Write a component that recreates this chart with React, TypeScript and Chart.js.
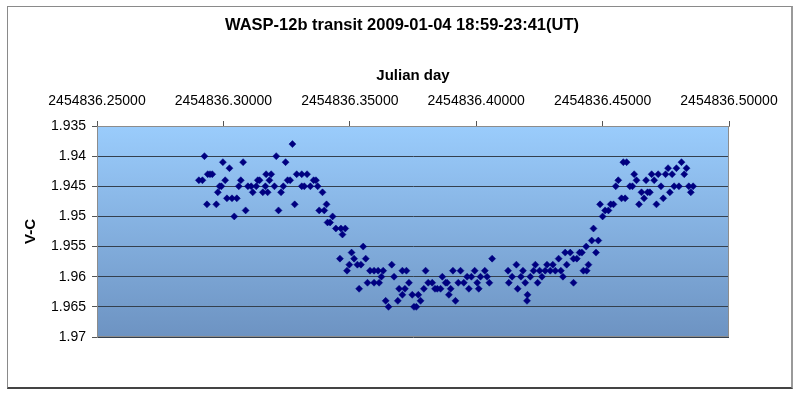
import React, { useEffect, useRef } from "react";
import { Chart, registerables } from "chart.js";

Chart.register(...registerables);

const TITLE = "WASP-12b transit 2009-01-04 18:59-23:41(UT)";
const X_TITLE = "Julian day";
const Y_TITLE = "V-C";
const JD_BASE = 2454836;
const X_MIN = 0.25;
const X_MAX = 0.5;
const X_STEP = 0.05;
const Y_MIN = 1.935;
const Y_MAX = 1.97;
const Y_STEP = 0.005;

// Julian day minus JD_BASE
const JD_FRACTION = [
  0.2903, 0.2917, 0.2925, 0.2935, 0.2938, 0.2947, 0.2956, 0.2972, 0.2978, 0.2985,
  0.2992, 0.2998, 0.3007, 0.3014, 0.3024, 0.3034, 0.3043, 0.3053, 0.3061, 0.3069,
  0.3078, 0.3088, 0.3097, 0.311, 0.3116, 0.313, 0.3136, 0.3143, 0.3156, 0.3166,
  0.3169, 0.3175, 0.3182, 0.3189, 0.3202, 0.3209, 0.3218, 0.3228, 0.3237, 0.3246,
  0.3254, 0.3264, 0.3273, 0.3282, 0.329, 0.331, 0.331, 0.332, 0.3331, 0.3344,
  0.3357, 0.3366, 0.3373, 0.3379, 0.3392, 0.3399, 0.3408, 0.3412, 0.3422, 0.3432,
  0.3445, 0.3461, 0.3465, 0.3471, 0.3482, 0.3489, 0.3498, 0.3507, 0.3517, 0.353,
  0.3537, 0.3544, 0.3553, 0.3563, 0.357, 0.358, 0.3596, 0.3596, 0.3612, 0.3616,
  0.3625, 0.3632, 0.3642, 0.3653, 0.3666, 0.3675, 0.369, 0.3695, 0.3708, 0.3708,
  0.3718, 0.3724, 0.3734, 0.3747, 0.3754, 0.3763, 0.3771, 0.378, 0.3793, 0.38,
  0.381, 0.3826, 0.3837, 0.3846, 0.3859, 0.3866, 0.3879, 0.3885, 0.3892, 0.3899,
  0.3908, 0.3918, 0.3929, 0.3938, 0.3951, 0.3964, 0.3971, 0.3981, 0.3994, 0.4004,
  0.401, 0.4017, 0.4034, 0.4043, 0.4052, 0.4063, 0.4126, 0.4129, 0.4142, 0.4159,
  0.4164, 0.4177, 0.4185, 0.4194, 0.4201, 0.4203, 0.4214, 0.4227, 0.4234, 0.4243,
  0.4251, 0.426, 0.4273, 0.428, 0.4293, 0.4303, 0.4313, 0.4326, 0.4335, 0.4343,
  0.4352, 0.4358, 0.4372, 0.4385, 0.4385, 0.4398, 0.4409, 0.4418, 0.4424, 0.4435,
  0.4437, 0.4444, 0.4457, 0.4464, 0.4474, 0.4483, 0.449, 0.45, 0.451, 0.4523,
  0.4532, 0.4543, 0.4552, 0.4562, 0.4575, 0.4582, 0.4589, 0.4595, 0.4608, 0.4618,
  0.4625, 0.4634, 0.4644, 0.4654, 0.4664, 0.4672, 0.4678, 0.4687, 0.4694, 0.4704,
  0.4713, 0.472, 0.4731, 0.474, 0.4749, 0.4759, 0.4766, 0.4775, 0.4783, 0.4792,
  0.4802, 0.4812, 0.4823, 0.4832, 0.4841, 0.4849, 0.4858,
];

const V_MINUS_C = [
  1.944, 1.944, 1.94, 1.948, 1.943, 1.943, 1.943, 1.948, 1.946, 1.945,
  1.945, 1.941, 1.944, 1.947, 1.942, 1.947, 1.95, 1.947, 1.945, 1.944,
  1.941, 1.949, 1.945, 1.945, 1.946, 1.945, 1.944, 1.944, 1.946, 1.945,
  1.943, 1.946, 1.944, 1.943, 1.945, 1.94, 1.949, 1.946, 1.945, 1.941,
  1.944, 1.944, 1.938, 1.948, 1.943, 1.943, 1.945, 1.945, 1.943, 1.945,
  1.944, 1.944, 1.945, 1.949, 1.946, 1.949, 1.948, 1.951, 1.951, 1.95,
  1.952, 1.957, 1.952, 1.953, 1.952, 1.959, 1.958, 1.956, 1.957, 1.958,
  1.962, 1.958, 1.955, 1.957, 1.961, 1.959, 1.959, 1.961, 1.959, 1.961,
  1.96, 1.959, 1.964, 1.965, 1.958, 1.96, 1.964, 1.962, 1.959, 1.963,
  1.962, 1.959, 1.961, 1.963, 1.965, 1.965, 1.963, 1.964, 1.962, 1.959,
  1.961, 1.961, 1.962, 1.962, 1.962, 1.96, 1.961, 1.961, 1.963, 1.962,
  1.959, 1.964, 1.961, 1.959, 1.961, 1.96, 1.962, 1.96, 1.959, 1.961,
  1.962, 1.96, 1.959, 1.96, 1.961, 1.957, 1.959, 1.961, 1.96, 1.958,
  1.962, 1.96, 1.959, 1.961, 1.964, 1.963, 1.96, 1.959, 1.958, 1.961,
  1.959, 1.96, 1.959, 1.958, 1.959, 1.958, 1.959, 1.957, 1.959, 1.96,
  1.956, 1.958, 1.956, 1.961, 1.957, 1.957, 1.956, 1.956, 1.959, 1.955,
  1.959, 1.958, 1.954, 1.952, 1.956, 1.954, 1.948, 1.95, 1.949, 1.949,
  1.948, 1.948, 1.945, 1.944, 1.947, 1.941, 1.947, 1.941, 1.945, 1.945,
  1.943, 1.944, 1.948, 1.946, 1.947, 1.944, 1.946, 1.946, 1.943, 1.944,
  1.948, 1.943, 1.945, 1.947, 1.943, 1.942, 1.946, 1.943, 1.945, 1.942,
  1.945, 1.941, 1.943, 1.942, 1.945, 1.946, 1.945,
];

const FONT = "'Liberation Sans', Arial, sans-serif";

const plotArea = {
  id: "plotArea",
  beforeDraw(chart: any) {
    const { ctx, chartArea } = chart;
    const { left, top, right, bottom } = chartArea;
    const g = ctx.createLinearGradient(0, top, 0, bottom);
    g.addColorStop(0, "#9ACCFC");
    g.addColorStop(1, "#6D93C2");
    ctx.save();
    ctx.fillStyle = g;
    ctx.fillRect(left, top, right - left, bottom - top);
    ctx.restore();
  },
  beforeDatasetsDraw(chart: any) {
    const { ctx, chartArea } = chart;
    const { left, top, right, bottom } = chartArea;
    ctx.save();
    ctx.strokeStyle = "#8C8C8C";
    ctx.lineWidth = 1;
    ctx.strokeRect(Math.round(left) + 0.5, Math.round(top) + 0.5, Math.round(right - left) - 1, Math.round(bottom - top) - 1);
    ctx.restore();
  },
  afterDraw(chart: any) {
    const { ctx } = chart;
    ctx.save();
    ctx.fillStyle = "#000";
    ctx.font = `bold 16.5px ${FONT}`;
    ctx.textAlign = "center";
    ctx.textBaseline = "middle";
    ctx.fillText(TITLE, 402, 25);
    ctx.restore();
  },
};

export default function App() {
  const ref = useRef<HTMLCanvasElement>(null);

  useEffect(() => {
    if (!ref.current) return;
    const points = JD_FRACTION.map((x, i) => ({ x, y: V_MINUS_C[i] }));
    const chart = new Chart(ref.current, {
      type: "scatter",
      data: {
        datasets: [
          {
            data: points,
            pointStyle: "rectRot",
            pointRadius: 3.5,
            backgroundColor: "#000080",
            borderColor: "#000080",
            borderWidth: 0.5,
          },
        ],
      },
      plugins: [plotArea],
      options: {
        responsive: false,
        animation: false,
        devicePixelRatio: 1,
        layout: { padding: { left: 20, right: 71, top: 60, bottom: 58 } },
        plugins: {
          legend: { display: false },
          tooltip: { enabled: false },
          title: { display: false },
        },
        scales: {
          x: {
            type: "linear",
            position: "top",
            min: X_MIN,
            max: X_MAX,
            afterFit: (s: any) => {
              s.height = 66;
            },
            ticks: {
              stepSize: X_STEP,
              color: "#000",
              font: { family: FONT, size: 14 },
              padding: 11.5,
              maxRotation: 0,
              autoSkip: false,
              callback: (v: any) => (JD_BASE + Number(v)).toFixed(5),
            },
            grid: {
              drawOnChartArea: false,
              drawTicks: true,
              tickLength: 5,
              tickColor: "#555",
            },
            border: { color: "#8C8C8C" },
            title: {
              display: true,
              text: X_TITLE,
              color: "#000",
              font: { family: FONT, size: 15, weight: "bold" },
              padding: { top: 7, bottom: 0 },
            },
          },
          y: {
            type: "linear",
            reverse: true,
            min: Y_MIN,
            max: Y_MAX,
            afterFit: (s: any) => {
              s.width = 77;
            },
            ticks: {
              stepSize: Y_STEP,
              color: "#000",
              font: { family: FONT, size: 14 },
              padding: 6,
              callback: (v: any) => String(Number(Number(v).toFixed(3))),
            },
            grid: {
              color: "#34404E",
              lineWidth: 1,
              drawTicks: true,
              tickLength: 5,
              tickColor: "#555",
            },
            border: { color: "#8C8C8C" },
            title: {
              display: true,
              text: Y_TITLE,
              color: "#000",
              font: { family: FONT, size: 15, weight: "bold" },
              padding: { top: 1.5, bottom: 0 },
            },
          },
        },
      },
    });
    return () => chart.destroy();
  }, []);

  return (
    <div style={{ position: "absolute", left: 0, top: 0, width: 800, height: 395, background: "#fff" }}>
      <div
        style={{
          position: "absolute",
          left: 7,
          top: 6,
          width: 783,
          height: 380,
          borderTop: "1px solid #8a8a8a",
          borderLeft: "1px solid #8a8a8a",
          borderRight: "2px solid #9a9a9a",
          borderBottom: "2px solid #444",
        }}
      />
      <canvas ref={ref} width={800} height={395} style={{ position: "absolute", left: 0, top: 0 }} />
    </div>
  );
}
